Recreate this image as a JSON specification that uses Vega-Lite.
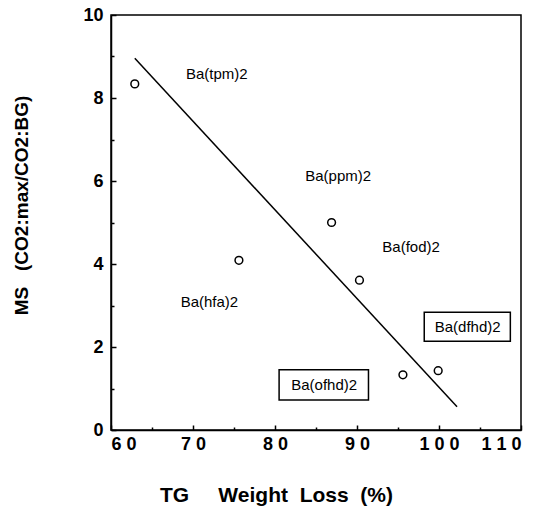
{
  "$schema": "https://vega.github.io/schema/vega-lite/v6.json",
  "autosize": "none",
  "padding": {"left": 111, "top": 15, "right": 24, "bottom": 77},
  "width": 410,
  "height": 415,
  "background": "white",
  "config": {
    "view": {"stroke": "black", "strokeWidth": 1.5},
    "font": "Liberation Sans"
  },
  "datasets": {
    "points": [
      {"tg": 62.9, "ms": 8.34},
      {"tg": 75.6, "ms": 4.09},
      {"tg": 86.9, "ms": 5.0},
      {"tg": 90.3, "ms": 3.61},
      {"tg": 95.6, "ms": 1.33},
      {"tg": 99.9, "ms": 1.43}
    ],
    "fit": [
      {"tg": 62.9, "ms": 8.96},
      {"tg": 102.2, "ms": 0.56}
    ],
    "labels": [
      {"tg": 72.9, "ms": 8.58, "name": "Ba(tpm)2"},
      {"tg": 87.7, "ms": 6.12, "name": "Ba(ppm)2"},
      {"tg": 96.6, "ms": 4.42, "name": "Ba(fod)2"},
      {"tg": 72.0, "ms": 3.09, "name": "Ba(hfa)2"},
      {"tg": 103.5, "ms": 2.49, "name": "Ba(dfhd)2"},
      {"tg": 86.0, "ms": 1.08, "name": "Ba(ofhd)2"}
    ],
    "boxes": [
      {"x1": 98.2, "x2": 108.7, "y1": 2.14, "y2": 2.84},
      {"x1": 80.5, "x2": 91.4, "y1": 0.72, "y2": 1.45}
    ]
  },
  "layer": [
    {
      "data": {"name": "boxes"},
      "mark": {"type": "rect", "fill": "white", "stroke": "black", "strokeWidth": 1.5},
      "encoding": {
        "x": {
          "field": "x1", "type": "quantitative",
          "scale": {"domain": [60, 110], "nice": false, "zero": false},
          "axis": {
            "values": [60, 65, 70, 75, 80, 85, 90, 95, 100, 105, 110],
            "labelExpr": "datum.value % 10 === 0 ? join(split(datum.label, ''), ' ') : ''",
            "tickSize": {"condition": {"test": "datum.value % 10 === 0", "value": -5}, "value": -3},
            "tickColor": "black",
            "tickWidth": 1.5,
            "domainColor": "black",
            "domainWidth": 1.5,
            "grid": false,
            "labelFont": "Liberation Sans",
            "labelFontWeight": "bold",
            "labelFontSize": 18,
            "labelColor": "black",
            "labelPadding": 10,
            "labelBaseline": "top",
            "title": "TG\u00a0\u00a0\u00a0\u00a0\u00a0Weight\u00a0\u00a0Loss\u00a0\u00a0(%)",
            "titleFont": "Liberation Sans",
            "titleFontWeight": "bold",
            "titleFontSize": 21,
            "titleColor": "black",
            "titleX": 165,
            "titleY": 65,
            "titleBaseline": "middle",
            "titleAlign": "center"
          }
        },
        "x2": {"field": "x2"},
        "y": {
          "field": "y1", "type": "quantitative",
          "scale": {"domain": [0, 10], "nice": false, "zero": false},
          "axis": {
            "values": [0, 1, 2, 3, 4, 5, 6, 7, 8, 9, 10],
            "labelExpr": "datum.value % 2 === 0 ? datum.label : ''",
            "tickSize": {"condition": {"test": "datum.value % 2 === 0", "value": -5}, "value": -3},
            "tickColor": "black",
            "tickWidth": 1.5,
            "domainColor": "black",
            "domainWidth": 1.5,
            "grid": false,
            "labelFont": "Liberation Sans",
            "labelFontWeight": "bold",
            "labelFontSize": 18,
            "labelColor": "black",
            "labelPadding": 13,
            "title": "MS\u00a0\u00a0\u00a0(CO2:max/CO2:BG)",
            "titleFont": "Liberation Sans",
            "titleFontWeight": "bold",
            "titleFontSize": 19,
            "titleColor": "black",
            "titleX": -90,
            "titleY": 190,
            "titleBaseline": "middle",
            "titleAlign": "center",
            "titleAngle": -90
          }
        },
        "y2": {"field": "y2"}
      }
    },
    {
      "data": {"name": "fit"},
      "mark": {"type": "line", "color": "black", "strokeWidth": 1.5},
      "encoding": {
        "x": {"field": "tg", "type": "quantitative"},
        "y": {"field": "ms", "type": "quantitative"}
      }
    },
    {
      "data": {"name": "points"},
      "mark": {"type": "point", "shape": "circle", "filled": false, "color": "black", "strokeWidth": 1.5, "size": 60, "opacity": 1},
      "encoding": {
        "x": {"field": "tg", "type": "quantitative"},
        "y": {"field": "ms", "type": "quantitative"}
      }
    },
    {
      "data": {"name": "labels"},
      "mark": {"type": "text", "font": "Liberation Sans", "fontSize": 15, "color": "black", "align": "center", "baseline": "middle"},
      "encoding": {
        "x": {"field": "tg", "type": "quantitative"},
        "y": {"field": "ms", "type": "quantitative"},
        "text": {"field": "name"}
      }
    }
  ]
}
